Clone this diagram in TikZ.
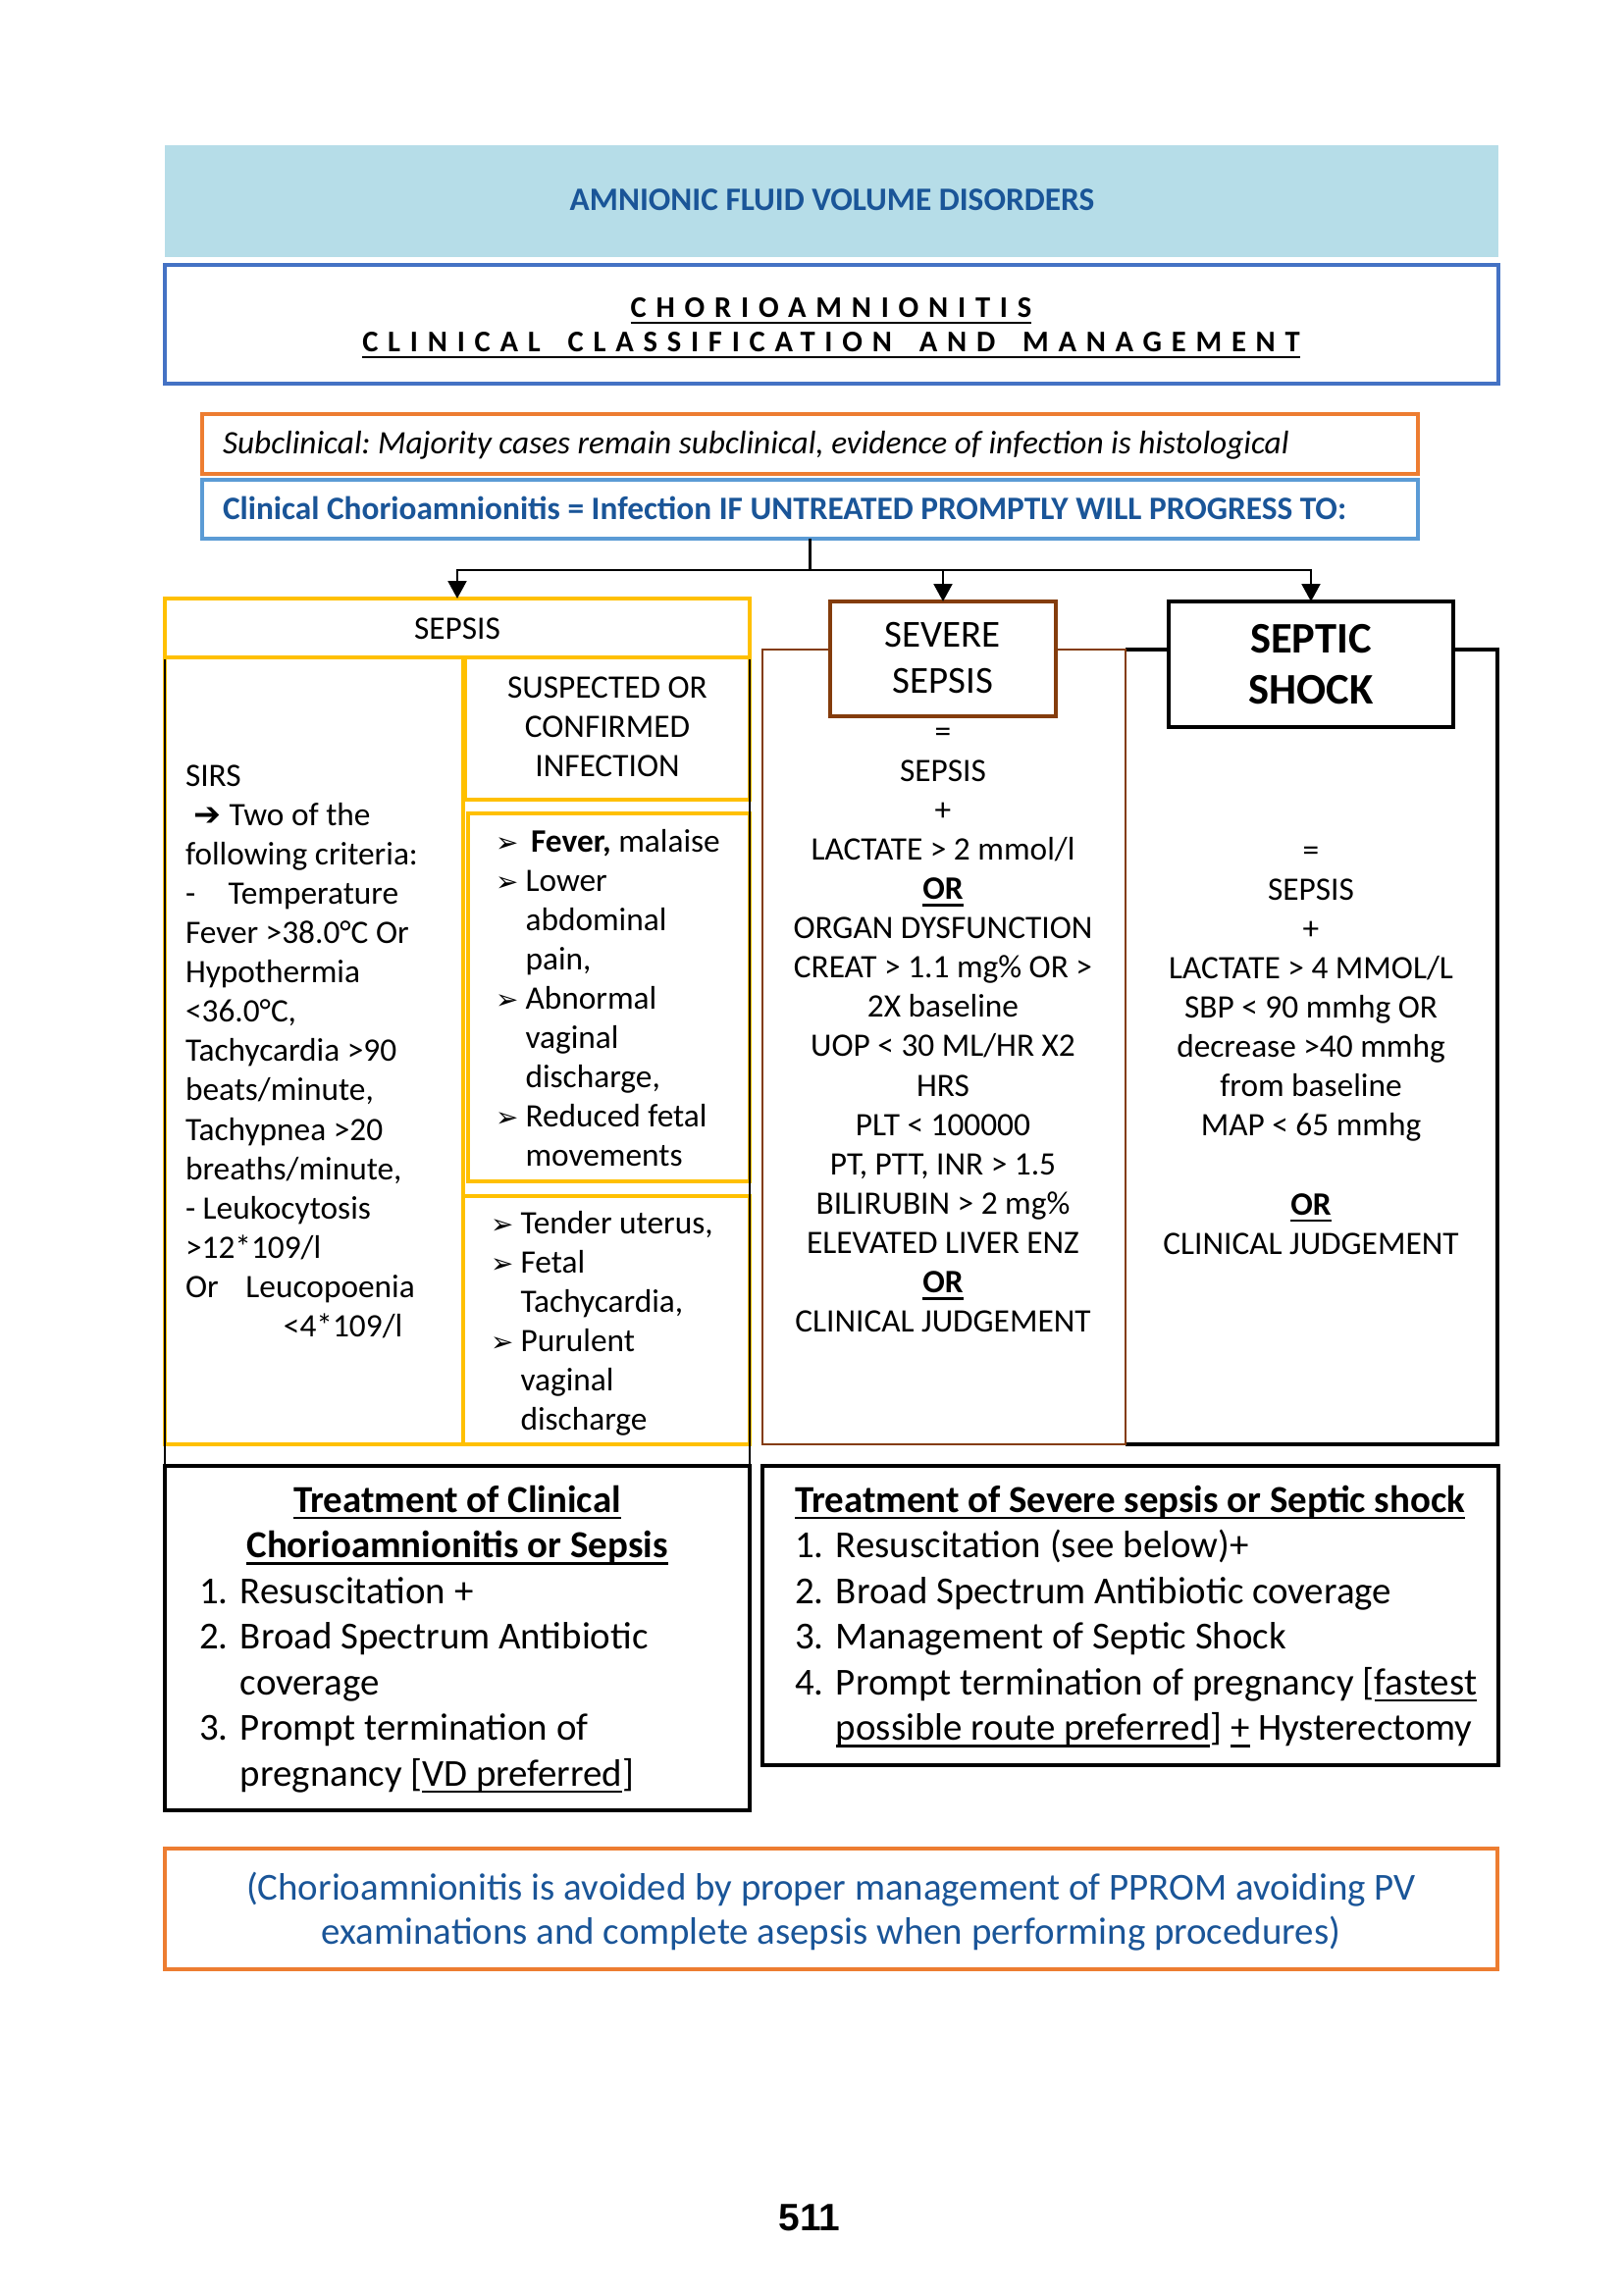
\documentclass[tikz,border=0pt]{standalone}
\usepackage{fontspec}
\setmainfont{Carlito}
\newfontfamily\dvsans{DejaVu Sans}
\newfontfamily\pgnumfont{Liberation Sans}
\newfontfamily\spacedfont[LetterSpace=32]{Carlito}
\usetikzlibrary{arrows.meta}
\definecolor{cBand}{HTML}{B6DDE8}
\definecolor{cTxtBlue}{HTML}{1A5598}
\definecolor{cTitleBlue}{HTML}{4472C4}
\definecolor{cClinBlue}{HTML}{5B9BD5}
\definecolor{cOrange}{HTML}{ED7D31}
\definecolor{cYellow}{HTML}{FFC000}
\definecolor{cBrown}{HTML}{843C0C}
\frenchspacing
\newsavebox\ulbox
\newcommand\ulx[1]{\leavevmode\sbox\ulbox{#1}\rlap{\rule[-2.6pt]{\wd\ulbox}{0.9pt}}\usebox\ulbox}
\newcommand\bul{\makebox[11pt][l]{\dvsans\fontsize{10}{12}\selectfont ➢}}
\newcommand\bulind{\hspace*{11pt}}
\newcommand\numitem[1]{\makebox[15.1pt][l]{#1}}
\newcommand\rectnode[6]{\node[#2, rectangle, anchor=north west, inner sep=0pt, outer sep=0pt, minimum width={(#5-#3)*0.36pt}, minimum height={(#6-#4)*0.36pt}] (#1) at (#3,#4) {};}
\begin{document}
\begin{tikzpicture}[x=0.36pt, y=-0.36pt,
  txt/.style={inner sep=0pt, outer sep=0pt, font=\fontsize{12}{14.44}\selectfont},
  yelbox/.style={draw=cYellow, line width=1.1pt},
  blkbox/.style={draw=black, line width=1.1pt},
  orbox/.style={draw=cOrange, line width=1.1pt},
  conn/.style={draw=black, line width=1pt},
  arr/.style={conn, -{Triangle[length=6.4pt, width=6.7pt]}}]

\fill[white] (0,0) rectangle (1654,2339);
\useasboundingbox (0,0) rectangle (1654,2339);

% header band
\rectnode{band}{fill=cBand, draw=none}{168}{148}{1527}{262}
\node[txt, anchor=base, text=cTxtBlue, font=\bfseries\fontsize{12}{14}\selectfont] (bandtxt) at (848,214) {AMNIONIC FLUID VOLUME DISORDERS};

% title box
\rectnode{title}{draw=cTitleBlue, line width=1.3pt}{168}{270}{1527}{391}
\node[txt, anchor=base, font=\spacedfont\bfseries\fontsize{11}{13}\selectfont] (title1) at (847,323) {\ulx{CHORIOAMNIONITIS}};
\node[txt, anchor=base, font=\spacedfont\bfseries\fontsize{11}{13}\selectfont] (title2) at (847,358) {\ulx{CLINICAL\hspace{4pt} CLASSIFICATION\hspace{4pt} AND\hspace{4pt} MANAGEMENT}};

% subclinical and clinical
\rectnode{sub}{orbox}{206}{422}{1445}{483}
\node[txt, anchor=base west, font=\itshape\fontsize{12}{14}\selectfont] (subtxt) at (227,462) {Subclinical: Majority cases remain subclinical, evidence of infection is histological};
\rectnode{clin}{draw=cClinBlue, line width=1.1pt}{206}{489}{1445}{549}
\node[txt, anchor=base west, text=cTxtBlue, font=\bfseries\fontsize{12}{14}\selectfont] (clintxt) at (227,529) {Clinical Chorioamnionitis = Infection IF UNTREATED PROMPTLY WILL PROGRESS TO:};

% column frames
\rectnode{shockcol}{draw=none}{1147}{662}{1526}{1472}
\draw[draw=black, line width=1.2pt] (shockcol.north west) -- (shockcol.north east) -- (shockcol.south east) -- (shockcol.south west);
\rectnode{sevcol}{draw=cBrown, line width=1pt}{777}{662}{1147}{1472}

% sepsis group (yellow)
\rectnode{sirs}{yelbox}{168}{670}{472}{1472}
\rectnode{susp}{yelbox}{474}{670}{764}{815}
\rectnode{signA}{yelbox}{477}{829}{764}{1204}
\rectnode{signB}{yelbox}{472}{1219}{764}{1472}
\rectnode{sepgrp}{draw=black, line width=0.4pt}{168}{641}{764}{1494}
\rectnode{sephdr}{yelbox, fill=white}{168}{610}{764}{670}

% severe sepsis and septic shock title boxes
\rectnode{sev}{draw=cBrown, fill=white, line width=1.4pt}{846}{613}{1076}{730}
\rectnode{shock}{draw=black, fill=white, line width=1.6pt}{1191}{613}{1481}{741}

% treatment boxes
\rectnode{trA}{blkbox}{168}{1494}{764}{1845}
\rectnode{trB}{blkbox}{777}{1494}{1527}{1799}

% note box
\rectnode{note}{orbox}{168}{1884}{1526}{2007}

% connectors
\coordinate (jy) at (0,581);
\coordinate (j) at (clin.south |- jy);
\draw[conn] (clin.south) -- (j);
\draw[arr] (j) -| (sephdr.north);
\draw[arr] (j) -| (sev.north);
\draw[arr] (j) -| (shock.north);

% sepsis texts
\node[txt, anchor=base] (sephdrtxt) at (466,651) {SEPSIS};
\node[txt, anchor=base west] (sirstxt) at (189,801) {\parbox[t]{100pt}{\fontsize{12}{14.44}\selectfont
SIRS\\
\hspace*{3pt}{\dvsans\bfseries\fontsize{12}{12}\selectfont ➔}\hspace{3pt}Two of the\\
following criteria:\\
-\hspace{12pt}Temperature\\
Fever >38.0°C Or\\
Hypothermia\\
<36.0°C,\\
Tachycardia >90\\
beats/minute,\\
Tachypnea >20\\
breaths/minute,\\
- Leukocytosis\\
>12*109/l\\
Or\hspace{10pt}Leucopoenia\\
\hspace*{36pt}<4*109/l}};
\node[txt, anchor=base] (susptxt) at (619,711) {\parbox[t]{95pt}{\centering\fontsize{12}{14.44}\selectfont SUSPECTED OR\\CONFIRMED\\INFECTION}};
\node[txt, anchor=base west] (signAtxt) at (505,868) {\parbox[t]{95pt}{\fontsize{12}{14.44}\selectfont
\bul\hspace{2pt}\textbf{Fever,} malaise\\
\bul Lower\\
\bulind abdominal\\
\bulind pain,\\
\bul Abnormal\\
\bulind vaginal\\
\bulind discharge,\\
\bul Reduced fetal\\
\bulind movements}};
\node[txt, anchor=base west] (signBtxt) at (500,1257) {\parbox[t]{95pt}{\fontsize{12}{14.44}\selectfont
\bul Tender uterus,\\
\bul Fetal\\
\bulind Tachycardia,\\
\bul Purulent\\
\bulind vaginal\\
\bulind discharge}};

% severe sepsis texts
\node[txt, anchor=base] (sevtxt) at (961,659) {\parbox[t]{80pt}{\centering\fontsize{14}{17}\selectfont SEVERE\\SEPSIS}};
\node[txt, anchor=base] (sevcoltxt) at (961,756) {\parbox[t]{140pt}{\centering\fontsize{12}{14.44}\selectfont
=\\SEPSIS\\+\\LACTATE > 2 mmol/l\\\textbf{\ulx{OR}}\\ORGAN DYSFUNCTION\\CREAT > 1.1 mg\% OR >\\2X baseline\\UOP < 30 ML/HR X2\\HRS\\PLT < 100000\\PT, PTT, INR > 1.5\\BILIRUBIN > 2 mg\%\\ELEVATED LIVER ENZ\\\textbf{\ulx{OR}}\\CLINICAL JUDGEMENT}};

% septic shock texts
\node[txt, anchor=base] (shocktxt) at (1336,665) {\parbox[t]{90pt}{\centering\bfseries\fontsize{16}{19}\selectfont SEPTIC\\SHOCK}};
\node[txt, anchor=base] (shockcoltxt) at (1336,877) {\parbox[t]{140pt}{\centering\fontsize{12}{14.44}\selectfont
=\\SEPSIS\\+\\LACTATE > 4 MMOL/L\\SBP < 90 mmhg OR\\decrease >40 mmhg\\from baseline\\MAP < 65 mmhg\\\mbox{}\\\textbf{\ulx{OR}}\\CLINICAL JUDGEMENT}};

% treatment A
\node[txt, anchor=base] (trAhead) at (466,1541) {\parbox[t]{200pt}{\centering\bfseries\fontsize{14}{16.74}\selectfont
\ulx{Treatment of Clinical}\\\ulx{Chorioamnionitis or Sepsis}}};
\node[txt, anchor=base west] (trAlist) at (203,1634) {\parbox[t]{200pt}{\fontsize{14}{16.74}\selectfont
\numitem{1.}Resuscitation +\\
\numitem{2.}Broad Spectrum Antibiotic\\
\numitem{}coverage\\
\numitem{3.}Prompt termination of\\
\numitem{}pregnancy [\ulx{VD preferred}]}};

% treatment B
\node[txt, anchor=base west, font=\bfseries\fontsize{14}{16.74}\selectfont] (trBhead) at (810,1541) {\ulx{Treatment of Severe sepsis or Septic shock}};
\node[txt, anchor=base west] (trBlist) at (810,1587.5) {\parbox[t]{260pt}{\fontsize{14}{16.74}\selectfont
\numitem{1.}Resuscitation (see below)+\\
\numitem{2.}Broad Spectrum Antibiotic coverage\\
\numitem{3.}Management of Septic Shock\\
\numitem{4.}Prompt termination of pregnancy [\ulx{fastest}\\
\numitem{}\ulx{possible route preferred}] \ulx{+} Hysterectomy}};

% note
\node[txt, anchor=base, text=cTxtBlue] (notetxt) at (847,1936) {\parbox[t]{470pt}{\centering\fontsize{14}{16.4}\selectfont
(Chorioamnionitis is avoided by proper management of PPROM avoiding PV\\examinations and complete asepsis when performing procedures)}};

% page number
\node[txt, anchor=base, font=\pgnumfont\bfseries\fontsize{14}{16}\selectfont] (pagenum) at (825,2273) {511};
\end{tikzpicture}
\end{document}
